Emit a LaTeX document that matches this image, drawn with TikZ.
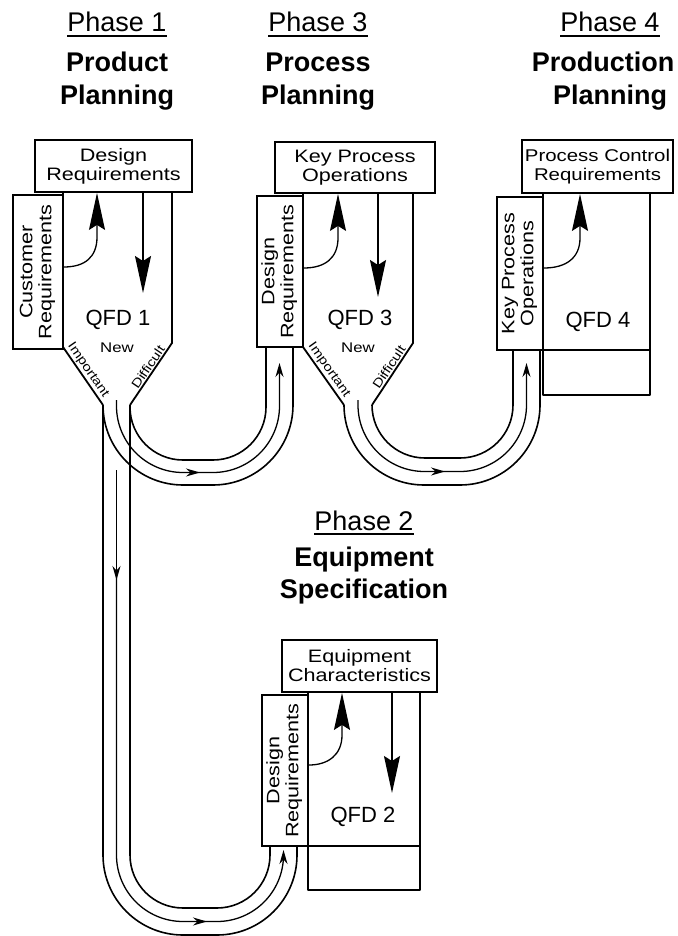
\documentclass[tikz,border=0pt]{standalone}
\usepackage{fontspec}
\setmainfont{Liberation Sans}
\newfontfamily\bxfont[FakeStretch=1.2]{Liberation Sans}
\usetikzlibrary{arrows.meta}
\begin{document}
\begin{tikzpicture}[x=1pt,y=-1pt,
  wall/.style={line width=1.8pt, line join=round},
  chan/.style={line width=1.6pt},
  hbox/.style={draw, line width=1.8pt, inner sep=0pt, align=center, font=\bxfont\fontsize{18}{19}\selectfont},
  bigarr/.style={line width=1.3pt, -{Stealth[length=37pt,width=16pt,inset=5pt]}},
  chanarr/.style={line width=1.3pt, -{Stealth[length=14pt,width=8pt]}},
  qfd/.style={font=\fontsize{22}{24}\selectfont, inner sep=0pt},
  tiny/.style={font=\bxfont\fontsize{14}{15}\selectfont, inner sep=1pt},
  slant/.style={font=\bxfont\fontsize{12.5}{14}\selectfont, inner sep=0pt},
  ph/.style={font=\fontsize{27}{30}\selectfont, inner sep=0pt, anchor=base},
  hd/.style={font=\bfseries\fontsize{27}{30}\selectfont, inner sep=0pt, anchor=base},
  uline/.style={line width=1.6pt}
]
\useasboundingbox (0,0) rectangle (677,936);

% ---------------- headings ----------------
\node[ph] (ph1) at (117,32) {Phase 1};
\node[hd] (pp1) at (117,72) {Product};
\node[hd] (pl1) at (117,105) {Planning};
\node[ph] (ph3) at (318,32) {Phase 3};
\node[hd] (pp3) at (318,72) {Process};
\node[hd] (pl3) at (318,105) {Planning};
\node[ph] (ph4) at (610,32) {Phase 4};
\node[hd] (pp4) at (603,72) {Production};
\node[hd] (pl4) at (610,105) {Planning};
\node[ph] (ph2) at (364,530) {Phase 2};
\node[hd] (pp2) at (364,566) {Equipment};
\node[hd] (pl2) at (364,598) {Specification};
\foreach \p in {ph1,ph3,ph4,ph2}
  \draw[uline] ([yshift=-4pt]\p.base west) -- ([yshift=-4pt]\p.base east);

% ---------------- channels ----------------
% QFD1 -> QFD3
\draw[chan, rounded corners=80pt] (103,405) -- (103,485) -- (293,485) -- (293,347);
\draw[chan, rounded corners=53pt] (130,405) -- (130,460) -- (266,460) -- (266,347);
\draw[chanarr, rounded corners=66.5pt] (116.5,400) |- (200,472.5);
\draw[chanarr, rounded corners=66.5pt] (195,472.5) -| (279.5,363);
% QFD1 -> QFD2
\draw[chan, rounded corners=80pt] (103,405) -- (103,935) -- (297,935) -- (297,846);
\draw[chan, rounded corners=53pt] (130,405) -- (130,908) -- (270,908) -- (270,846);
\draw[chanarr] (116.5,470) -- (116.5,580);
\draw[chanarr, rounded corners=66.5pt] (116.5,572) |- (207,921.5);
\draw[chanarr, rounded corners=66.5pt] (202,921.5) -| (283.5,850);
% QFD3 -> QFD4
\draw[chan, rounded corners=80pt] (344,405) -- (344,485) -- (540,485) -- (540,350);
\draw[chan, rounded corners=53pt] (372,405) -- (372,458) -- (513,458) -- (513,350);
\draw[chanarr, rounded corners=66.5pt] (358,400) |- (445,471.5);
\draw[chanarr, rounded corners=66.5pt] (440,471.5) -| (526.5,363);

% ---------------- QFD 1 ----------------
\draw[wall] (63,193) -- (63,347) -- (103,405);
\draw[wall] (172,193) -- (172,343) -- (130,405);
\node[hbox, minimum width=157pt, minimum height=52pt] (dr1) at (113.5,166) {Design\\Requirements};
\node[hbox, minimum width=50pt, minimum height=154pt] (cr1) at (38,272)
  {\rotatebox{90}{\begin{tabular}{@{}c@{}}Customer\\Requirements\end{tabular}}};
\coordinate (d1) at (143,293);
\draw[bigarr] ([yshift=5pt]cr1.east) .. controls (85,267) and (97,257) .. (97,237) -- ([xshift=-16.5pt]dr1.south);
\draw[bigarr] ([xshift=29.5pt]dr1.south) -- (d1);
\node[qfd] (q1) at (118,320) {QFD 1};
\node[tiny] (new1) at (117,348) {New};
\node[slant, rotate=-55.4] (imp1) at (88,370) {Important};
\node[slant, rotate=55.9] (dif1) at (148,367) {Difficult};

% ---------------- QFD 3 ----------------
\draw[wall] (303,193) -- (303,347) -- (344,405);
\draw[wall] (413,193) -- (413,343) -- (372,405);
\node[hbox, minimum width=160pt, minimum height=51pt] (kpo3) at (355,167.5) {Key Process\\Operations};
\node[hbox, minimum width=46pt, minimum height=151pt] (dr3) at (280,271.5)
  {\rotatebox{90}{\begin{tabular}{@{}c@{}}Design\\Requirements\end{tabular}}};
\coordinate (d3) at (378,297);
\draw[bigarr] ([yshift=3.5pt]dr3.east) .. controls (325,268) and (338,258) .. (338,238) -- ([xshift=-17pt]kpo3.south);
\draw[bigarr] ([xshift=23pt]kpo3.south) -- (d3);
\node[qfd] (q3) at (360,320) {QFD 3};
\node[tiny] (new3) at (358,348) {New};
\node[slant, rotate=-54.7] (imp3) at (329,370) {Important};
\node[slant, rotate=56.5] (dif3) at (389,367) {Difficult};

% ---------------- QFD 4 ----------------
\draw[wall] (543,193) rectangle (650,395);
\draw[wall] (543,350) -- (650,350);
\node[hbox, fill=white, minimum width=151pt, minimum height=53pt, font=\bxfont\fontsize{17}{19}\selectfont] (pcr4) at (597.5,166.5) {Process Control\\Requirements};
\node[hbox, fill=white, minimum width=46pt, minimum height=153pt] (kpo4) at (520,273.5)
  {\rotatebox{90}{\begin{tabular}{@{}c@{}}Key Process\\Operations\end{tabular}}};
\draw[bigarr] ([yshift=5.5pt]kpo4.east) .. controls (566,268) and (580,258) .. (580,238) -- ([xshift=-17.5pt]pcr4.south);
\node[qfd] (q4) at (598,322) {QFD 4};

% ---------------- QFD 2 ----------------
\draw[wall] (308,692) rectangle (420,890);
\draw[wall] (308,846) -- (420,846);
\node[hbox, fill=white, minimum width=155pt, minimum height=52pt] (ec2) at (359.5,666) {Equipment\\Characteristics};
\node[hbox, fill=white, minimum width=46pt, minimum height=151pt] (dr2) at (285,770.5)
  {\rotatebox{90}{\begin{tabular}{@{}c@{}}Design\\Requirements\end{tabular}}};
\coordinate (d2) at (392,793);
\draw[bigarr] ([yshift=5.5pt]dr2.east) .. controls (328,765) and (342,755) .. (342,735) -- ([xshift=-17.5pt]ec2.south);
\draw[bigarr] ([xshift=32.5pt]ec2.south) -- (d2);
\node[qfd] (q2) at (363,817) {QFD 2};
\end{tikzpicture}
\end{document}
